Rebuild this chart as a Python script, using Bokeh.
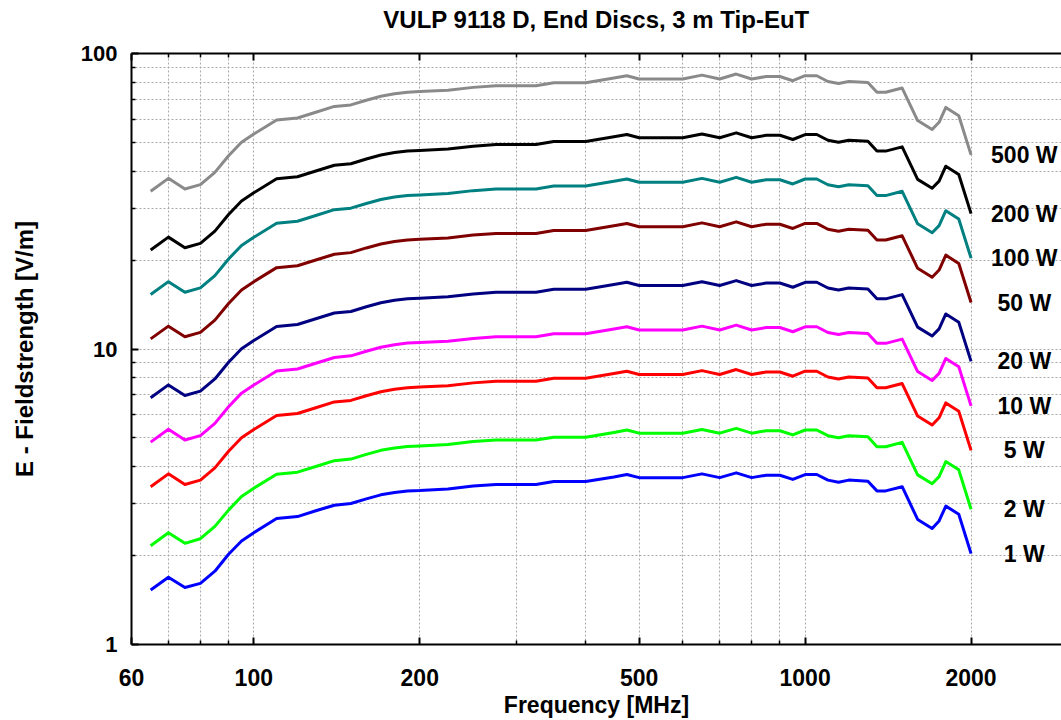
from bokeh.plotting import figure
from bokeh.models import (FixedTicker, LogAxis, Range1d, LabelSet, ColumnDataSource,
                          NumeralTickFormatter)
from bokeh.core.properties import value
from bokeh.embed import file_html
from bokeh.resources import INLINE

freq_mhz = [65, 70, 75, 80, 85, 90, 95, 100, 110, 120, 130, 140, 150, 160, 170, 180, 190, 200,
            225, 250, 275, 300, 325, 350, 400, 450, 475, 500, 550, 600, 650, 700, 750, 800, 850,
            900, 950, 1000, 1050, 1100, 1150, 1200, 1300, 1350, 1400, 1500, 1600, 1700, 1750,
            1800, 1900, 2000]

e_500w = [34.2, 37.8, 34.8, 36.0, 39.6, 45.1, 50.1, 53.4, 59.6, 60.5, 63.4, 66.2, 67.0, 69.5, 71.7,
          73.1, 74.0, 74.3, 75.1, 76.8, 77.8, 77.8, 77.8, 79.6, 79.6, 82.6, 84.1, 82.0, 82.0, 82.0,
          84.5, 82.0, 85.2, 82.0, 83.6, 83.6, 80.9, 84.1, 84.1, 80.4, 79.2, 80.4, 79.8, 73.9, 73.9,
          76.4, 59.3, 55.3, 58.5, 65.7, 61.6, 45.4]
e_200w = [21.63, 23.91, 22.01, 22.77, 25.05, 28.52, 31.69, 33.77, 37.69, 38.26, 40.10, 41.87, 42.37,
          43.96, 45.35, 46.23, 46.80, 46.99, 47.50, 48.57, 49.21, 49.21, 49.21, 50.34, 50.34, 52.24,
          53.19, 51.86, 51.86, 51.86, 53.44, 51.86, 53.89, 51.86, 52.87, 52.87, 51.17, 53.19, 53.19,
          50.85, 50.09, 50.85, 50.47, 46.74, 46.74, 48.32, 37.50, 34.98, 37.00, 41.55, 38.96, 28.71]
e_100w = [15.29, 16.90, 15.56, 16.10, 17.71, 20.17, 22.41, 23.88, 26.65, 27.06, 28.35, 29.61, 29.96,
          31.08, 32.07, 32.69, 33.09, 33.23, 33.59, 34.35, 34.79, 34.79, 34.79, 35.60, 35.60, 36.94,
          37.61, 36.67, 36.67, 36.67, 37.79, 36.67, 38.10, 36.67, 37.39, 37.39, 36.18, 37.61, 37.61,
          35.96, 35.42, 35.96, 35.69, 33.05, 33.05, 34.17, 26.52, 24.73, 26.16, 29.38, 27.55, 20.30]
e_50w = [10.82, 11.95, 11.00, 11.38, 12.52, 14.26, 15.84, 16.89, 18.85, 19.13, 20.05, 20.93, 21.19,
         21.98, 22.67, 23.12, 23.40, 23.50, 23.75, 24.29, 24.60, 24.60, 24.60, 25.17, 25.17, 26.12,
         26.60, 25.93, 25.93, 25.93, 26.72, 25.93, 26.94, 25.93, 26.44, 26.44, 25.58, 26.60, 26.60,
         25.42, 25.05, 25.42, 25.24, 23.37, 23.37, 24.16, 18.75, 17.49, 18.50, 20.78, 19.48, 14.36]
e_20w = [6.84, 7.56, 6.96, 7.20, 7.92, 9.02, 10.02, 10.68, 11.92, 12.10, 12.68, 13.24, 13.40, 13.90,
         14.34, 14.62, 14.80, 14.86, 15.02, 15.36, 15.56, 15.56, 15.56, 15.92, 15.92, 16.52, 16.82,
         16.40, 16.40, 16.40, 16.90, 16.40, 17.04, 16.40, 16.72, 16.72, 16.18, 16.82, 16.82, 16.08,
         15.84, 16.08, 15.96, 14.78, 14.78, 15.28, 11.86, 11.06, 11.70, 13.14, 12.32, 9.08]
e_10w = [4.84, 5.35, 4.92, 5.09, 5.60, 6.38, 7.09, 7.55, 8.43, 8.56, 8.97, 9.36, 9.48, 9.83, 10.14,
         10.34, 10.47, 10.51, 10.62, 10.86, 11.00, 11.00, 11.00, 11.26, 11.26, 11.68, 11.89, 11.60,
         11.60, 11.60, 11.95, 11.60, 12.05, 11.60, 11.82, 11.82, 11.44, 11.89, 11.89, 11.37, 11.20,
         11.37, 11.29, 10.45, 10.45, 10.80, 8.39, 7.82, 8.27, 9.29, 8.71, 6.42]
e_5w = [3.42, 3.78, 3.48, 3.60, 3.96, 4.51, 5.01, 5.34, 5.96, 6.05, 6.34, 6.62, 6.70, 6.95, 7.17,
        7.31, 7.40, 7.43, 7.51, 7.68, 7.78, 7.78, 7.78, 7.96, 7.96, 8.26, 8.41, 8.20, 8.20, 8.20,
        8.45, 8.20, 8.52, 8.20, 8.36, 8.36, 8.09, 8.41, 8.41, 8.04, 7.92, 8.04, 7.98, 7.39, 7.39,
        7.64, 5.93, 5.53, 5.85, 6.57, 6.16, 4.54]
e_2w = [2.16, 2.39, 2.20, 2.28, 2.51, 2.85, 3.17, 3.38, 3.77, 3.83, 4.01, 4.19, 4.24, 4.40, 4.54,
        4.62, 4.68, 4.70, 4.75, 4.86, 4.92, 4.92, 4.92, 5.03, 5.03, 5.22, 5.32, 5.19, 5.19, 5.19,
        5.34, 5.19, 5.39, 5.19, 5.29, 5.29, 5.12, 5.32, 5.32, 5.09, 5.01, 5.09, 5.05, 4.67, 4.67,
        4.83, 3.75, 3.50, 3.70, 4.16, 3.90, 2.87]
e_1w = [1.53, 1.69, 1.56, 1.61, 1.77, 2.02, 2.24, 2.39, 2.67, 2.71, 2.84, 2.96, 3.00, 3.11, 3.21,
        3.27, 3.31, 3.32, 3.36, 3.44, 3.48, 3.48, 3.48, 3.56, 3.56, 3.69, 3.76, 3.67, 3.67, 3.67,
        3.78, 3.67, 3.81, 3.67, 3.74, 3.74, 3.62, 3.76, 3.76, 3.60, 3.54, 3.60, 3.57, 3.31, 3.31,
        3.42, 2.65, 2.47, 2.62, 2.94, 2.76, 2.03]

power_labels = ["500 W", "200 W", "100 W", "50 W", "20 W", "10 W", "5 W", "2 W", "1 W"]
series = [e_500w, e_200w, e_100w, e_50w, e_20w, e_10w, e_5w, e_2w, e_1w]
colors = ["#8a8a8a", "#000000", "#008080", "#800000", "#000080", "#ff00ff", "#ff0000",
          "#00ff00", "#0000ff"]

x_major = [60, 100, 200, 500, 1000, 2000]
x_minor = [70, 80, 90, 300, 400, 600, 700, 800, 900]
y_major = [1, 10, 100]
y_minor = [2, 3, 4, 5, 6, 7, 8, 9, 20, 30, 40, 50, 60, 70, 80, 90]

TITLE = "VULP 9118 D, End Discs, 3 m Tip-EuT"
FONT = "Liberation Sans"

p = figure(width=1061, height=720, x_axis_type="log", y_axis_type="log",
           x_range=Range1d(60, 2918), y_range=Range1d(1, 100),
           output_backend="svg", toolbar_location=None,
           min_border_left=131, min_border_right=0, min_border_top=53, min_border_bottom=75)
p.outline_line_color = None
p.background_fill_color = "white"
p.border_fill_color = "white"

xt = FixedTicker(ticks=x_major, minor_ticks=x_minor)
yt = FixedTicker(ticks=y_major, minor_ticks=y_minor)

for ax, tk in ((p.xaxis[0], xt), (p.yaxis[0], yt)):
    ax.ticker = tk
    ax.formatter = NumeralTickFormatter(format="0")
    ax.axis_line_width = 2
    ax.axis_line_color = "black"
    ax.major_tick_in = 7
    ax.major_tick_out = 0
    ax.minor_tick_in = 4
    ax.minor_tick_out = 0
    ax.major_tick_line_width = 2
    ax.minor_tick_line_width = 1.5
    ax.major_label_text_font = FONT
    ax.major_label_text_font_style = "bold"
    ax.major_label_text_color = "black"
    ax.axis_label_text_font = FONT
    ax.axis_label_text_font_style = "bold"
    ax.axis_label_text_color = "black"

p.xaxis.axis_label = "Frequency [MHz]"
p.xaxis.major_label_text_font_size = "23px"
p.xaxis.axis_label_text_font_size = "23px"
p.xaxis.major_label_standoff = 24
p.xaxis.axis_label_standoff = 3

p.yaxis.axis_label = "E - Fieldstrength [V/m]"
p.yaxis.major_label_text_font_size = "22px"
p.yaxis.axis_label_text_font_size = "24px"
p.yaxis.major_label_standoff = 14
p.yaxis.axis_label_standoff = 40

# top frame line with inward ticks; the chart title sits above it
top = LogAxis(ticker=xt, axis_line_width=2, axis_line_color="black",
              major_tick_in=7, major_tick_out=0, minor_tick_in=4, minor_tick_out=0,
              major_tick_line_width=2, minor_tick_line_width=1.5,
              major_label_text_font_size="1px", major_label_text_alpha=0,
              major_label_standoff=0,
              axis_label=TITLE, axis_label_text_font=FONT, axis_label_text_font_size="24px",
              axis_label_text_font_style="bold", axis_label_text_color="black",
              axis_label_standoff=21)
p.add_layout(top, "above")

for g, tk in ((p.xgrid[0], xt), (p.ygrid[0], yt)):
    g.ticker = tk
    g.grid_line_color = "#a8a8a8"
    g.grid_line_dash = "2 2"
    g.grid_line_width = 1
    g.minor_grid_line_color = "#a8a8a8"
    g.minor_grid_line_dash = "2 2"
    g.minor_grid_line_width = 1

for ys, col in zip(series, colors):
    p.line(freq_mhz, ys, line_color=col, line_width=3, line_join="round")

LABEL_X = 2498
lab_src = ColumnDataSource(dict(x=[LABEL_X] * len(series), y=[s[-1] for s in series],
                                text=power_labels))
p.add_layout(LabelSet(x="x", y="y", text="text", source=lab_src, text_align="center",
                      text_baseline="middle", text_font=value(FONT), text_font_style="bold",
                      text_font_size="23px", text_color="black"))

open("out.html", "w").write(file_html(p, INLINE))
